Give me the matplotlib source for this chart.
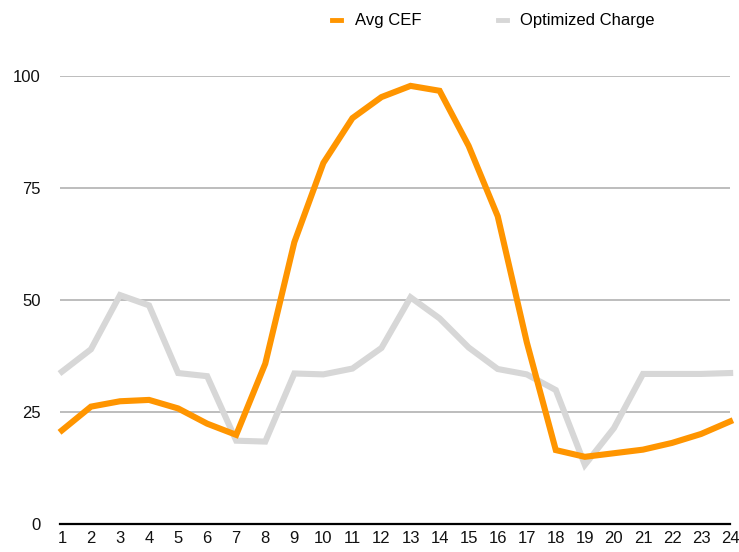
import matplotlib.pyplot as plt

plt.rcParams["font.family"] = ["Liberation Sans", "DejaVu Sans"]

hours = list(range(1, 25))
avg_cef = [20.9, 26.2, 27.4, 27.7, 25.8, 22.4, 19.9, 35.8, 62.9, 80.6, 90.6, 95.3,
           97.8, 96.7, 84.4, 68.7, 40.6, 16.5, 15.0, 15.8, 16.6, 18.1, 20.1, 22.9]
optimized = [34.0, 39.0, 51.1, 48.8, 33.7, 33.0, 18.6, 18.4, 33.6, 33.4, 34.7, 39.3,
             50.6, 45.9, 39.4, 34.6, 33.4, 29.9, 13.2, 21.4, 33.5, 33.5, 33.5, 33.7]
yticks = [0, 25, 50, 75, 100]

fig = plt.figure(figsize=(7.39, 5.52), dpi=100)
ax = fig.add_axes([0.081, 0.0507, 0.907, 0.8116])

ax.plot(hours, avg_cef, color="#ff9500", lw=4.4, label="Avg CEF",
        solid_joinstyle="miter", zorder=3, clip_on=False)
ax.plot(hours, optimized, color="#d7d7d7", lw=4.4, label="Optimized Charge",
        solid_joinstyle="miter", zorder=2, clip_on=False)

ax.set_xlim(0.93, 24.0)
ax.set_ylim(0, 100)
ax.set_xticks(hours)
ax.set_yticks(yticks)
ax.tick_params(length=0, labelsize=12, colors="#111111")
ax.tick_params(axis="y", pad=14)
ax.tick_params(axis="x", pad=5)
for s in ["top", "right", "left"]:
    ax.spines[s].set_visible(False)
ax.spines["bottom"].set_linewidth(1.6)
ax.spines["bottom"].set_color("black")
for y in yticks[1:]:
    ax.axhline(y, color="#b8b8b8", lw=1.3, zorder=1)

leg = fig.legend(loc="center", bbox_to_anchor=(0.668, 0.962), ncol=2, frameon=False,
                 handlelength=0.55, handletextpad=0.8, columnspacing=4.6, fontsize=12)
for h in leg.get_lines():
    h.set_linewidth(3.5)

fig.savefig("out.png", dpi=100)
